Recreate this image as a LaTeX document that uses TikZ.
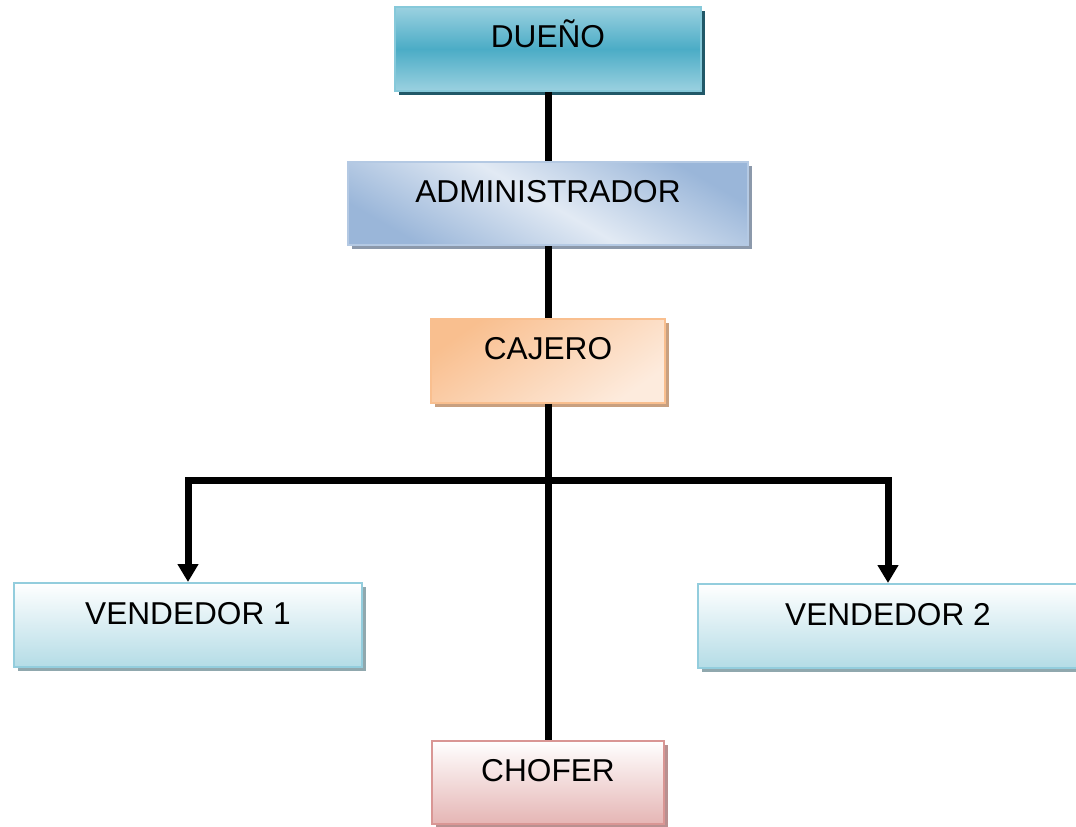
\documentclass[tikz,border=0pt]{standalone}
\usepackage{fontspec}
\setmainfont{Liberation Sans}
\usetikzlibrary{arrows.meta,shadows}

\definecolor{duenoLight}{HTML}{9BD1E0}
\definecolor{duenoMid}{HTML}{4BACC6}
\definecolor{duenoBorde}{HTML}{86C9DA}
\definecolor{duenoSombra}{HTML}{215868}
\definecolor{adminDark}{HTML}{9AB6D9}
\definecolor{adminLight}{HTML}{E2EAF4}
\definecolor{adminBorde}{HTML}{B4C9E3}
\definecolor{adminSombra}{HTML}{8C99AB}
\definecolor{cajeroDark}{HTML}{F9BF8F}
\definecolor{cajeroLight}{HTML}{FDEBDD}
\definecolor{cajeroSombra}{HTML}{C8A080}
\definecolor{vendBottom}{HTML}{B4DCE6}
\definecolor{vendBorde}{HTML}{93CDDD}
\definecolor{vendSombra}{HTML}{90A8AE}
\definecolor{choferBottom}{HTML}{E5B5B4}
\definecolor{choferBorde}{HTML}{D99694}
\definecolor{choferSombra}{HTML}{B89090}

\tikzset{
  puesto/.style={rectangle, line width=0.04cm, inner xsep=0pt, inner ysep=0pt,
    text height=0.82cm, text depth=0.86cm, minimum width=#1,
    font=\fontsize{18}{21}\selectfont},
  sombra/.style={drop shadow={shadow xshift=0.08cm, shadow yshift=-0.08cm,
    fill=#1, opacity=1}},
  linea/.style={line width=0.14cm},
  flecha/.style={linea, -{Triangle[length=0.36cm, width=0.4cm]}},
}

\begin{document}
\begin{tikzpicture}[x=0.02cm, y=-0.02cm]
  \useasboundingbox (0,0) rectangle (1076,827);

  \node[puesto=6.12cm, sombra=duenoSombra, draw=duenoBorde,
        top color=duenoLight, bottom color=duenoLight, middle color=duenoMid]
    (dueno) at (548,49) {DUEÑO};
  \node[puesto=8.02cm, sombra=adminSombra, draw=adminBorde,
        top color=adminDark, bottom color=adminDark, middle color=adminLight,
        shading angle=-30]
    (admin) at (548,203.5) {ADMINISTRADOR};
  \node[puesto=4.68cm, sombra=cajeroSombra, draw=cajeroDark,
        top color=cajeroDark, bottom color=cajeroLight, shading angle=35]
    (cajero) at (548,361) {CAJERO};
  \node[puesto=6.98cm, sombra=vendSombra, draw=vendBorde,
        top color=white, bottom color=vendBottom]
    (vend1) at (188,625) {VENDEDOR 1};
  \node[puesto=7.6cm, sombra=vendSombra, draw=vendBorde,
        top color=white, bottom color=vendBottom]
    (vend2) at (888,626) {VENDEDOR 2};
  \node[puesto=4.64cm, sombra=choferSombra, draw=choferBorde,
        top color=white, bottom color=choferBottom]
    (chofer) at (548,782.5) {CHOFER};

  \coordinate (bus) at (548,481);

  \begin{scope}[linea]
    \draw (dueno) -- (admin);
    \draw (admin) -- (cajero);
    \draw (cajero) -- (bus);
    \draw[flecha] (bus) -| (vend1.north);
    \draw[flecha] (bus) -| (vend2.north);
    \draw (bus) -- (chofer);
  \end{scope}
\end{tikzpicture}
\end{document}
